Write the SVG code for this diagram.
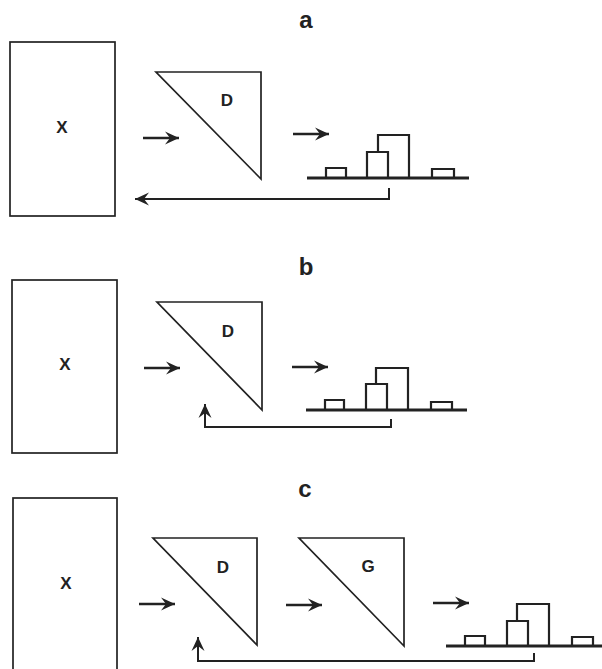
<svg xmlns="http://www.w3.org/2000/svg" width="602" height="669" viewBox="0 0 602 669">
<defs>
<style>
.box{fill:none;stroke:#222;stroke-width:1.7}
.tri{fill:none;stroke:#222;stroke-width:1.7;stroke-linejoin:miter}
.bar{fill:none;stroke:#222;stroke-width:2.2}
.base{fill:none;stroke:#222;stroke-width:2.8}
.arr{fill:none;stroke:#222;stroke-width:2.3}
.fb{fill:none;stroke:#222;stroke-width:2}
.lbl{font-family:"Liberation Sans",Arial,sans-serif;font-weight:bold;fill:#222;text-anchor:middle}
.panel{font-size:24px}
.node{font-size:17px}
</style>
<marker id="ah" markerUnits="userSpaceOnUse" viewBox="-15 -7 16 14" markerWidth="16" markerHeight="14" refX="0" refY="0" orient="auto">
<path d="M0,0 L-14,-6.5 L-9,0 L-14,6.5 Z" fill="#222"/>
</marker>
</defs>
<g id="labels">
<text class="lbl panel" x="306" y="28">a</text>
<text class="lbl panel" x="306" y="275">b</text>
<text class="lbl panel" x="305" y="497">c</text>
</g>
<g id="panel-a">
<g id="a-X"><rect class="box" x="10" y="42" width="105" height="174"/><text class="lbl node" x="62" y="133">X</text></g>
<g id="a-D"><path class="tri" d="M156,72 H261 V179 Z"/><text class="lbl node" x="227" y="106">D</text></g>
<g id="a-hist"><path class="base" d="M307,178 H469"/><path class="bar" d="M326,178 V168 H346 V178 M367,178 V152 H388 V178 M378,152 V135 H409 V178 M432,178 V169 H454 V178"/></g>
</g>
<g id="panel-b">
<g id="b-X"><rect class="box" x="12" y="280" width="105" height="173"/><text class="lbl node" x="65" y="370">X</text></g>
<g id="b-D"><path class="tri" d="M157,302 H262 V410 Z"/><text class="lbl node" x="228" y="337">D</text></g>
<g id="b-hist"><path class="base" d="M306,410 H467"/><path class="bar" d="M325,410 V400 H344 V410 M366,410 V384 H387 V410 M376,384 V368 H408 V410 M431,410 V402 H452 V410"/></g>
</g>
<g id="panel-c">
<g id="c-X"><rect class="box" x="13" y="498" width="104" height="190"/><text class="lbl node" x="66" y="589">X</text></g>
<g id="c-D"><path class="tri" d="M153,538 H257 V645 Z"/><text class="lbl node" x="223" y="573">D</text></g>
<g id="c-G"><path class="tri" d="M299,538 H404 V646 Z"/><text class="lbl node" x="368" y="572">G</text></g>
<g id="c-hist"><path class="base" d="M446,646 H602"/><path class="bar" d="M465,646 V636 H485 V646 M507,646 V621 H528 V646 M517,621 V604 H549 V646 M572,646 V637 H593 V646"/></g>
</g>
<g id="connectors">
<path class="arr" d="M143,138 H179" marker-end="url(#ah)"/>
<path class="arr" d="M293,134 H329" marker-end="url(#ah)"/>
<path class="fb" d="M389,188 V199 H135" marker-end="url(#ah)"/>
<path class="arr" d="M144,368 H180" marker-end="url(#ah)"/>
<path class="arr" d="M292,367 H328" marker-end="url(#ah)"/>
<path class="fb" d="M391,419 V427 H205 V404" marker-end="url(#ah)"/>
<path class="arr" d="M139,604 H175" marker-end="url(#ah)"/>
<path class="arr" d="M286,605 H322" marker-end="url(#ah)"/>
<path class="arr" d="M433,603 H469" marker-end="url(#ah)"/>
<path class="fb" d="M534,653 V661 H198 V637" marker-end="url(#ah)"/>
</g>
</svg>
